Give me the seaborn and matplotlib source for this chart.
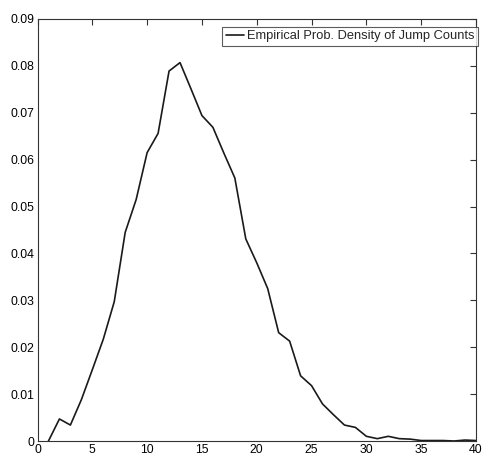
import matplotlib
matplotlib.use("Agg")
import matplotlib.pyplot as plt
import seaborn as sns
import pandas as pd

# Jump counts and their empirical probability density
jump_counts = list(range(1, 41))
density = [
    0.0000, 0.0047, 0.0034, 0.0088, 0.0152, 0.0217, 0.0297, 0.0445, 0.0515, 0.0615,
    0.0656, 0.0789, 0.0807, 0.0751, 0.0694, 0.0669, 0.0614, 0.0561, 0.0431, 0.0380,
    0.0325, 0.0231, 0.0213, 0.0139, 0.0118, 0.0079, 0.0056, 0.0034, 0.0029, 0.0010,
    0.0005, 0.0010, 0.0005, 0.0004, 0.0001, 0.0001, 0.0001, 0.0000, 0.0002, 0.0001,
]
series_label = "Empirical Prob. Density of Jump Counts"
x_ticks = [0, 5, 10, 15, 20, 25, 30, 35, 40]
y_ticks = [0, 0.01, 0.02, 0.03, 0.04, 0.05, 0.06, 0.07, 0.08, 0.09]

sns.set_style("white")
plt.rcParams["font.family"] = ["Liberation Sans", "DejaVu Sans"]

df = pd.DataFrame({"count": jump_counts, "density": density})

fig = plt.figure(figsize=(4.85, 4.57), dpi=100)
ax = fig.add_axes([37.5 / 485, 1 - 441 / 457, (476 - 37.5) / 485, (441 - 19) / 457])

sns.lineplot(data=df, x="count", y="density", ax=ax, color="#1a1a1a",
             linewidth=1.2, label=series_label)

ax.set_xlim(0, 40)
ax.set_ylim(0, 0.09)
ax.set_xticks(x_ticks)
ax.set_yticks(y_ticks)
ax.set_xticklabels([f"{v:g}" for v in x_ticks])
ax.set_yticklabels(["0" if v == 0 else f"{v:.2f}" for v in y_ticks])
ax.set_xlabel("")
ax.set_ylabel("")

for side in ["top", "right", "bottom", "left"]:
    ax.spines[side].set_visible(True)
    ax.spines[side].set_color("#333333")
    ax.spines[side].set_linewidth(0.8)

ax.tick_params(axis="both", direction="in", length=4, width=0.8, color="#333333",
               top=True, right=True, labelsize=8.8, labelcolor="black", pad=2.5)

leg = ax.legend(loc="upper right", fontsize=9.3, frameon=True, fancybox=False,
                handlelength=1.45, handletextpad=0.2, borderpad=0.25,
                borderaxespad=0.0, bbox_to_anchor=(1.004, 0.981))
leg.get_frame().set_edgecolor("#333333")
leg.get_frame().set_linewidth(0.8)

fig.savefig("out.png", dpi=100, facecolor="white")
